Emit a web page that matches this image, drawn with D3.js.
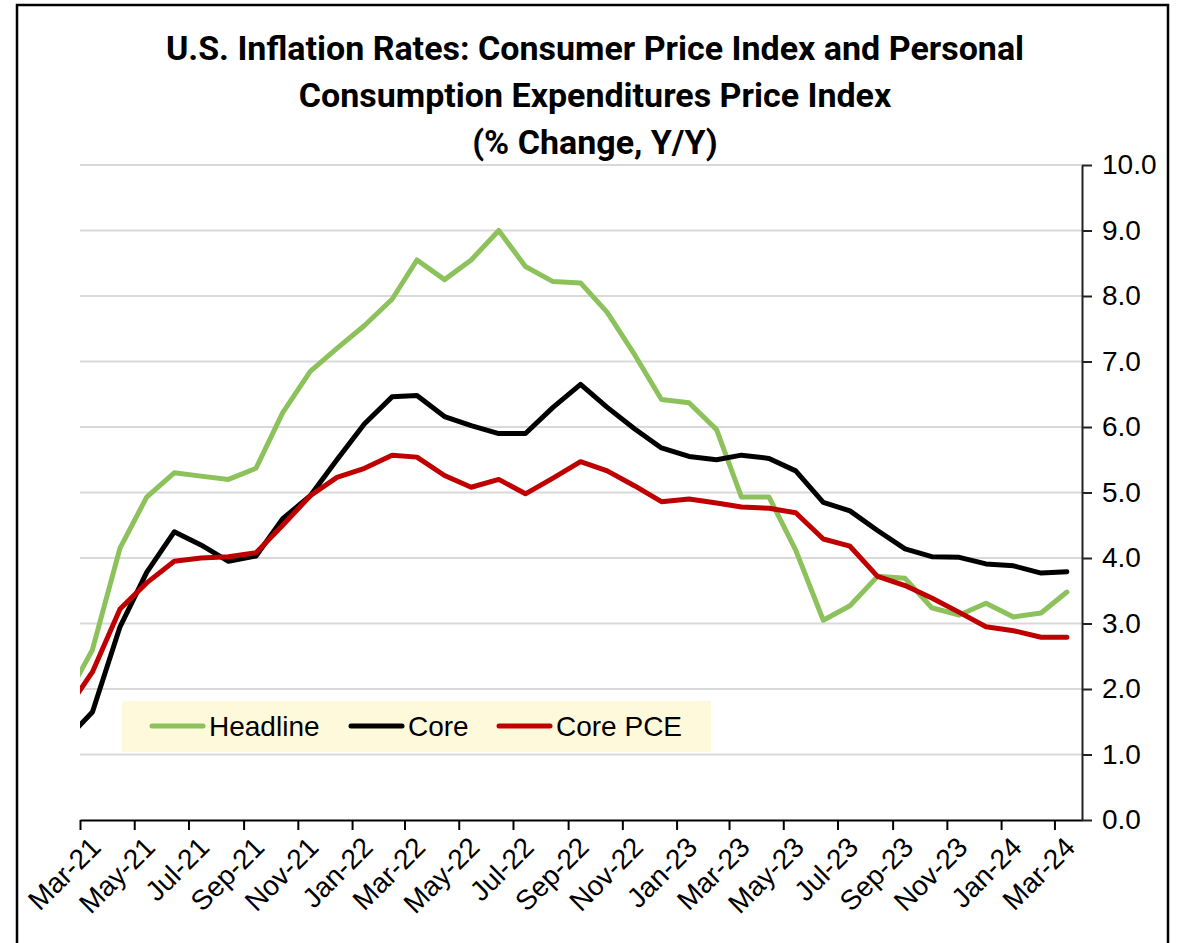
<!DOCTYPE html>
<html>
<head>
<meta charset="utf-8">
<script src="https://cdn.jsdelivr.net/npm/d3@7"></script>
<style>
  body { margin: 0; background: #fff; }
  text { font-family: "Liberation Sans", Arial, sans-serif; }
</style>
</head>
<body>
<div id="chart"></div>
<script>
// monthly data, Feb-21 .. Mar-24 (Feb-21 falls outside the axis and gets clipped)
var months = ["2021-02","2021-03","2021-04","2021-05","2021-06","2021-07","2021-08","2021-09","2021-10","2021-11","2021-12",
  "2022-01","2022-02","2022-03","2022-04","2022-05","2022-06","2022-07","2022-08","2022-09","2022-10","2022-11","2022-12",
  "2023-01","2023-02","2023-03","2023-04","2023-05","2023-06","2023-07","2023-08","2023-09","2023-10","2023-11","2023-12",
  "2024-01","2024-02","2024-03"];

var headline = [1.9, 2.6, 4.15, 4.93, 5.3, 5.25, 5.2, 5.37, 6.22, 6.85, 7.2,
  7.55, 7.95, 8.55, 8.25, 8.55, 9.0, 8.45, 8.22, 8.2, 7.75, 7.1, 6.42,
  6.37, 5.96, 4.93, 4.93, 4.12, 3.05, 3.27, 3.72, 3.69, 3.24, 3.13, 3.31,
  3.1, 3.16, 3.48];

var core = [1.25, 1.65, 2.95, 3.78, 4.4, 4.2, 3.95, 4.03, 4.6, 4.95, 5.5,
  6.05, 6.46, 6.48, 6.16, 6.02, 5.9, 5.9, 6.3, 6.65, 6.3, 5.97, 5.68,
  5.55, 5.5, 5.57, 5.52, 5.33, 4.85, 4.72, 4.42, 4.14, 4.02, 4.01, 3.91,
  3.88, 3.77, 3.79];

var corePce = [1.7, 2.26, 3.22, 3.62, 3.95, 4.0, 4.02, 4.08, 4.5, 4.95, 5.23,
  5.37, 5.57, 5.54, 5.26, 5.08, 5.2, 4.98, 5.22, 5.47, 5.33, 5.1, 4.86,
  4.9, 4.84, 4.78, 4.76, 4.69, 4.29, 4.18, 3.72, 3.58, 3.39, 3.17, 2.95,
  2.89, 2.79, 2.79];

var seriesNames = ["Headline", "Core", "Core PCE"];
var seriesColors = ["#8CC15B", "#000000", "#C00000"];
var titleLines = ["U.S. Inflation Rates: Consumer Price Index and Personal",
  "Consumption Expenditures Price Index", "(% Change, Y/Y)"];
var yTicks = [0,1,2,3,4,5,6,7,8,9,10];

var W = 1187, H = 943;
var svg = d3.select("#chart").append("svg")
  .attr("width", W)
  .attr("height", H);

// outer frame (bottom edge runs off the picture)
svg.append("path")
  .attr("d", "M17,950 V5 H1168 V950")
  .attr("fill", "none")
  .attr("stroke", "#000")
  .attr("stroke-width", 2.5);

var parse = d3.timeParse("%Y-%m-%d");
var dates = months.map(function(m) { return parse(m + "-15"); });

var x = d3.scaleTime()
  .domain([new Date(2021, 2, 1), new Date(2024, 3, 1)])
  .range([80, 1082]);
var y = d3.scaleLinear().domain([0, 10]).range([820, 165]);

// title
svg.selectAll(".title")
  .data(titleLines)
  .enter()
  .append("text")
    .attr("class", "title")
    .attr("x", 595)
    .attr("y", function(d, i) { return 60 + i * 47; })
    .attr("text-anchor", "middle")
    .style("font-family", "Roboto, 'Open Sans', sans-serif")
    .style("font-weight", "bold")
    .style("font-size", "34px")
    .text(function(d) { return d; });

// gridlines
svg.append("g")
  .selectAll("line")
  .data(yTicks.slice(1))
  .enter()
  .append("line")
    .attr("x1", 80)
    .attr("x2", 1082)
    .attr("y1", function(d) { return y(d); })
    .attr("y2", function(d) { return y(d); })
    .attr("stroke", "#d9d9d9")
    .attr("stroke-width", 2);

// clip so the Feb-21 point is cut at the axis start
svg.append("clipPath").attr("id", "plot")
  .append("rect")
  .attr("x", 80).attr("y", 150).attr("width", 1002).attr("height", 680);

var line = d3.line()
  .x(function(d, i) { return x(dates[i]); })
  .y(function(d) { return y(d); });

var plot = svg.append("g").attr("clip-path", "url(#plot)");
[headline, core, corePce].forEach(function(vals, k) {
  plot.append("path")
    .datum(vals)
    .attr("d", line)
    .attr("fill", "none")
    .attr("stroke", seriesColors[k])
    .attr("stroke-width", 5)
    .attr("stroke-linejoin", "round")
    .attr("stroke-linecap", "round");
});

// x axis
var xTicks = d3.timeMonth.range(new Date(2021, 2, 1), new Date(2024, 3, 2), 2);
var xAxis = svg.append("g")
  .attr("transform", "translate(0,820)")
  .call(d3.axisBottom(x).tickValues(xTicks).tickSize(10).tickSizeOuter(0).tickFormat(d3.timeFormat("%b-%y")));
xAxis.select(".domain").attr("stroke", "#000").attr("stroke-width", 2);
xAxis.selectAll(".tick line").attr("stroke", "#000").attr("stroke-width", 2);
xAxis.selectAll(".tick text")
  .attr("fill", "#000")
  .style("font-size", "28px")
  .attr("text-anchor", "end")
  .attr("dy", "0.35em")
  .attr("transform", "translate(15,22) rotate(-45)")
  .attr("y", 0)
  .attr("x", 0);

// y axis on the right
var yAxis = svg.append("g")
  .attr("transform", "translate(1082,0)")
  .call(d3.axisRight(y).tickValues(yTicks).tickSize(10).tickSizeOuter(0).tickFormat(d3.format(".1f")));
yAxis.select(".domain").attr("stroke", "#222").attr("stroke-width", 2);
yAxis.selectAll(".tick line").attr("stroke", "#222").attr("stroke-width", 2);
yAxis.selectAll(".tick text")
  .attr("fill", "#000")
  .attr("x", 20)
  .style("font-size", "28px");

// legend
var legend = svg.append("g");
legend.append("rect")
  .attr("x", 122).attr("y", 701)
  .attr("width", 589).attr("height", 51)
  .attr("fill", "#FFF9DC");

var legendX = [152, 351, 499];
var items = legend.selectAll(".item")
  .data(seriesNames)
  .enter()
  .append("g")
    .attr("transform", function(d, i) { return "translate(" + legendX[i] + ",726)"; });
items.append("line")
  .attr("x1", 0).attr("x2", 51)
  .attr("stroke", function(d, i) { return seriesColors[i]; })
  .attr("stroke-width", 5)
  .attr("stroke-linecap", "round");
items.append("text")
  .attr("x", 57)
  .attr("dy", "0.35em")
  .style("font-size", "28px")
  .text(function(d) { return d; });
</script>
</body>
</html>
